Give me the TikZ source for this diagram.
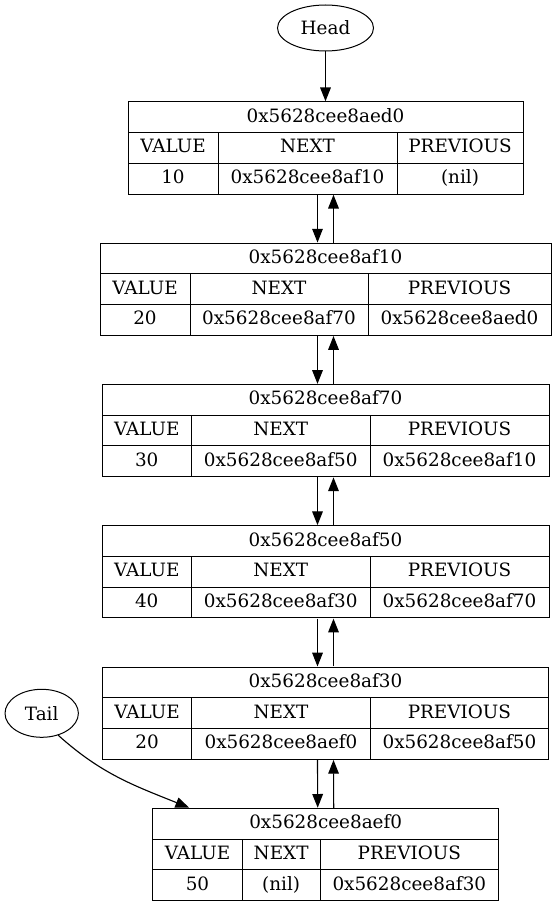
\documentclass[tikz,border=0pt]{standalone}
\usepackage{fontspec}
\setmainfont{DejaVu Serif}
\usetikzlibrary{calc,positioning,arrows.meta,shapes.geometric,fit}
\begin{document}
\begin{tikzpicture}[x = .8pt, y = -.8pt,
  cell/.style={draw, line width = .8pt, inner sep = 0pt, minimum height = 24.53pt, text height = 10.6pt, text depth = 2.8pt, font = \fontsize{14.7pt}{17pt}\selectfont},
  ptr/.style={draw, ellipse, line width = .8pt, inner sep = 0pt, font = \fontsize{14.7pt}{17pt}\selectfont},
  arr/.style={line width = .9pt, -{Triangle[length = 11pt, width = 8.5pt]}}]
\useasboundingbox (0,0) rectangle (556,907);
%head and tail
\node[ptr, minimum width = 76.8pt, minimum height = 36.8pt] (head) at (325.5,28) {Head};
\node[ptr, minimum width = 58.7pt, minimum height = 38.4pt] (tail) at (41.7,713.3) {Tail};
%list nodes
\foreach \n/\l/\a/\b/\r/\t/\addr/\val/\nxt/\prv in {
  1/128/218/397/523/102/0x5628cee8aed0/10/0x5628cee8af10/{(nil)},
  2/100/190/368/551/243.3/0x5628cee8af10/20/0x5628cee8af70/0x5628cee8aed0,
  3/102/191.5/370/549/384.6/0x5628cee8af70/30/0x5628cee8af50/0x5628cee8af10,
  4/102/191.5/370/549/525.9/0x5628cee8af50/40/0x5628cee8af30/0x5628cee8af70,
  5/102.5/191.7/370.3/548.5/667.2/0x5628cee8af30/20/0x5628cee8aef0/0x5628cee8af50,
  6/152.7/242.3/320/498.7/808.5/0x5628cee8aef0/50/{(nil)}/0x5628cee8af30}{
  \pgfmathsetmacro\wa{(\a-\l)*0.8}
  \pgfmathsetmacro\wb{(\b-\a)*0.8}
  \pgfmathsetmacro\wc{(\r-\b)*0.8}
  \pgfmathsetmacro\wt{(\r-\l)*0.8}
  \node[cell, minimum width = \wt pt] (h\n) at ({(\l+\r)/2}, \t+15.33) {\addr};
  \node[cell, minimum width = \wa pt] (vl\n) at ({(\l+\a)/2}, \t+46) {VALUE};
  \node[cell, minimum width = \wb pt] (nl\n) at ({(\a+\b)/2}, \t+46) {NEXT};
  \node[cell, minimum width = \wc pt] (pl\n) at ({(\b+\r)/2}, \t+46) {PREVIOUS};
  \node[cell, minimum width = \wa pt] (vv\n) at ({(\l+\a)/2}, \t+76.67) {\val};
  \node[cell, minimum width = \wb pt] (nv\n) at ({(\a+\b)/2}, \t+76.67) {\nxt};
  \node[cell, minimum width = \wc pt] (pv\n) at ({(\b+\r)/2}, \t+76.67) {\prv};
  \node[fit = (h\n)(vv\n)(pv\n), inner sep = 0pt] (t\n) {};
}
%links
\draw[arr] (head) -- (t1);
\foreach \i [evaluate = \i as \j using int(\i+1)] in {1,...,5}{
  \draw[arr] ([xshift = -6.4pt]t\i.south) -- ([xshift = -6.4pt]t\j.north);
  \draw[arr] ([xshift = 6.4pt]t\j.north) -- ([xshift = 6.4pt]t\i.south);
}
\draw[arr] (tail.-53) to[out = -42, in = 158] ([xshift = 29.8pt]t6.north west);
\end{tikzpicture}
\end{document}
